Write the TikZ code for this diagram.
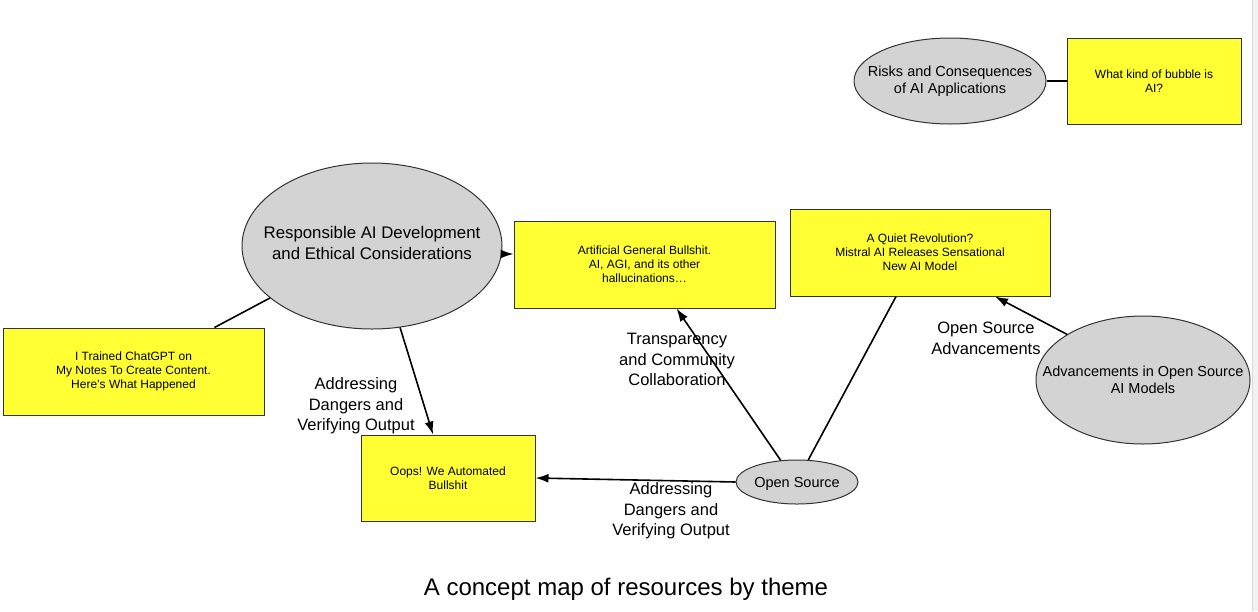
\documentclass[tikz,border=0pt]{standalone}
\usepackage{fontspec}
\setmainfont{Liberation Sans}
\usetikzlibrary{shapes.geometric,arrows.meta}
\definecolor{boxyellow}{HTML}{FFFF33}
\definecolor{bubblegray}{HTML}{D3D3D3}
\definecolor{edgegray}{HTML}{333333}
\tikzset{
  bubble/.style={ellipse, draw=edgegray, line width=1pt, fill=bubblegray, inner sep=0pt},
  resbox/.style={rectangle, draw=edgegray, line width=1pt, fill=boxyellow, inner sep=0pt, align=center,
    font=\fontsize{12}{14}\selectfont},
  conn/.style={line width=1.6pt, black},
  arr/.style={conn, -{Latex[length=13pt,width=9pt]}},
  lbl/.style={align=center, inner sep=0pt, font=\fontsize{16.5}{20.5}\selectfont}
}
\begin{document}
\begin{tikzpicture}[x=1pt,y=-1pt]
\useasboundingbox[fill=white] (0,0) rectangle (1258,611);
\fill[gray!10] (1252,0) rectangle (1258,611);
\draw[gray!30, line width=0.8pt] (1252,0) -- (1252,611);

% nodes
\node[bubble, minimum width=192pt, minimum height=86pt,
  label={[font=\fontsize{14.5}{17}\selectfont, align=center]center:Risks and Consequences\\of AI Applications}] (risks) at (950,81) {};
\node[resbox, minimum width=174pt, minimum height=86pt] (bubbleq) at (1154,81) {What kind of bubble is\\AI?};

\node[bubble, minimum width=260pt, minimum height=166pt,
  label={[font=\fontsize{16.8}{21}\selectfont, align=center, yshift=3pt]center:Responsible AI Development\\and Ethical Considerations}] (resp) at (372,246) {};

\node[resbox, minimum width=261pt, minimum height=87pt] (agb) at (644.5,264.5) {Artificial General Bullshit.\\AI, AGI, and its other\\hallucinations\dots};
\node[resbox, minimum width=260pt, minimum height=87pt] (mis) at (920,252.5) {A Quiet Revolution?\\Mistral AI Releases Sensational\\New AI Model};

\node[bubble, minimum width=214pt, minimum height=128pt,
  label={[font=\fontsize{14.5}{17}\selectfont, align=center]center:Advancements in Open Source\\AI Models}] (adv) at (1143,380) {};

\node[resbox, minimum width=261pt, minimum height=87pt] (itr) at (133.5,371.5) {I Trained ChatGPT on\\My Notes To Create Content.\\Here's What Happened};
\node[resbox, minimum width=174pt, minimum height=86pt] (oops) at (448,478) {Oops! We Automated\\Bullshit};

\node[bubble, minimum width=122pt, minimum height=44pt,
  label={[font=\fontsize{14.5}{17}\selectfont, yshift=-1.5pt]center:Open Source}] (os) at (797,482) {};

% connectors
\coordinate (respout) at ([yshift=-8pt]resp.east);
\draw[conn] (risks.east) -- (bubbleq.west);
\draw[arr] (respout) -- (agb.west |- respout);
\draw[conn] ([xshift=81pt]itr.north) -- (resp.207);
\draw[arr] (resp.-71.6) -- ([xshift=-15pt]oops.north);
\draw[arr] (os.west) -- (oops.east);
\draw[arr] (os.127) -- ([xshift=32pt]agb.south);
\draw[conn] (os.63) -- ([xshift=-24pt]mis.south);
\draw[arr] (adv.149) -- ([xshift=75pt]mis.south);

% labels
\node[lbl] (l1) at (356,406) {Addressing\\Dangers and\\Verifying Output};
\node[lbl] (l2) at (671,511) {Addressing\\Dangers and\\Verifying Output};
\node[lbl] (l3) at (677,359.5) {Transparency\\and Community\\Collaboration};
\node[lbl] (l4) at (986,338.5) {Open Source\\Advancements};

\node[font=\fontsize{24}{28}\selectfont] (cap) at (626,589) {A concept map of resources by theme};
\end{tikzpicture}
\end{document}
